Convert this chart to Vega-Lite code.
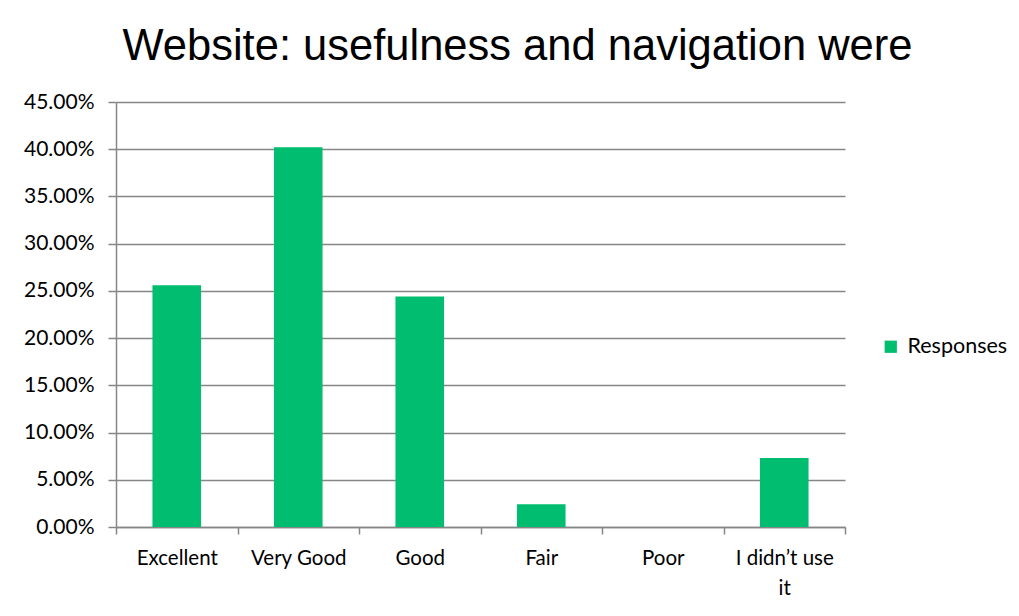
{
  "$schema": "https://vega.github.io/schema/vega-lite/v6.json",
  "width": 729,
  "height": 425,
  "autosize": "none",
  "padding": {"left": 116, "top": 102, "right": 174, "bottom": 89},
  "background": "white",
  "title": {
    "text": "Website: usefulness and navigation were",
    "font": "Liberation Sans",
    "fontSize": 43.5,
    "fontWeight": "normal",
    "color": "#000000",
    "anchor": "middle",
    "dx": 37,
    "offset": 22
  },
  "data": {
    "values": [
      {"rating": "Excellent", "share": 0.256, "series": "Responses"},
      {"rating": "Very Good", "share": 0.402, "series": "Responses"},
      {"rating": "Good", "share": 0.244, "series": "Responses"},
      {"rating": "Fair", "share": 0.024, "series": "Responses"},
      {"rating": "Poor", "share": 0.0, "series": "Responses"},
      {"rating": "I didn’t use it", "share": 0.073, "series": "Responses"}
    ]
  },
  "mark": {"type": "bar", "width": {"band": 0.4}},
  "encoding": {
    "x": {
      "field": "rating",
      "type": "nominal",
      "sort": null,
      "scale": {"paddingInner": 0, "paddingOuter": 0},
      "axis": {
        "title": null,
        "labelAngle": 0,
        "bandPosition": 0,
        "tickBand": "extent",
        "labelFont": "Lato",
        "labelFontSize": 20.5,
        "labelColor": "#000000",
        "labelPadding": 14,
        "labelLineHeight": 30,
        "labelExpr": "datum.label == 'I didn’t use it' ? ['I didn’t use', 'it'] : datum.label",
        "domainColor": "#868686",
        "domainWidth": 1.5,
        "tickColor": "#868686",
        "tickWidth": 1.5,
        "tickSize": 7,
        "grid": false
      }
    },
    "y": {
      "field": "share",
      "type": "quantitative",
      "scale": {"domain": [0, 0.45], "nice": false},
      "axis": {
        "title": null,
        "format": ".2%",
        "values": [0, 0.05, 0.1, 0.15, 0.2, 0.25, 0.3, 0.35, 0.4, 0.45],
        "labelFont": "Lato",
        "labelFontSize": 21,
        "labelColor": "#000000",
        "labelPadding": 14,
        "domainColor": "#868686",
        "domainWidth": 1.5,
        "tickColor": "#868686",
        "tickWidth": 1.5,
        "tickSize": 8,
        "grid": true,
        "gridColor": "#868686",
        "gridWidth": 1.5
      }
    },
    "color": {
      "field": "series",
      "type": "nominal",
      "scale": {"range": ["#00BD6F"]},
      "legend": {
        "title": null,
        "orient": "none",
        "legendX": 764,
        "legendY": 234,
        "symbolType": "square",
        "symbolSize": 150,
        "labelFont": "Lato",
        "labelFontSize": 21.5,
        "labelColor": "#000000",
        "labelOffset": 6
      }
    }
  },
  "config": {
    "view": {"stroke": null}
  }
}
